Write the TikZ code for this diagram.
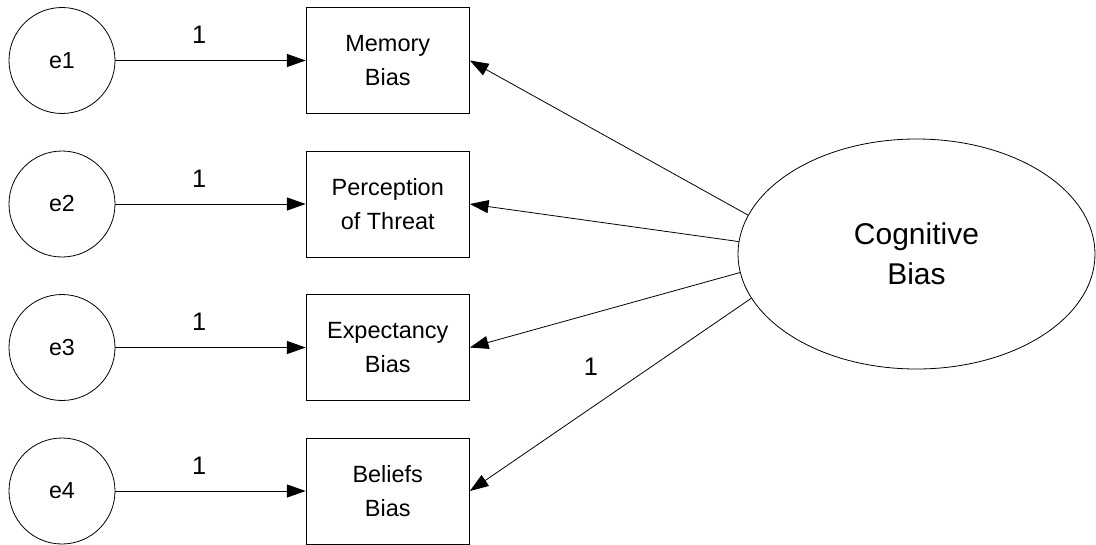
\documentclass[tikz,border=0pt]{standalone}
\usepackage{fontspec}
\setmainfont{Liberation Sans}
\usetikzlibrary{arrows.meta,shapes.geometric}
\begin{document}
\begin{tikzpicture}[x=0.75pt,y=-0.75pt,
  every node/.style={inner sep=0pt},
  errvar/.style={circle,draw,line width=0.6pt,minimum size=79.5pt,
    font=\fontsize{17.4}{20}\selectfont},
  indicator/.style={rectangle,draw,line width=0.6pt,minimum width=122.6pt,
    minimum height=79.5pt,align=center,font=\fontsize{17.6}{25}\selectfont},
  latent/.style={ellipse,draw,line width=0.6pt,minimum width=267.75pt,
    minimum height=172.5pt,align=center,font=\fontsize{22.5}{30}\selectfont},
  loading/.style={line width=0.6pt,-{Triangle[length=14pt,width=9.75pt]}},
  wlabel/.style={font=\fontsize{19}{22}\selectfont},
]
\useasboundingbox (0,0) rectangle (1096,544);

% error terms
\node[errvar] (e1) at (62,60.5) {e1};
\node[errvar] (e2) at (62,204) {e2};
\node[errvar] (e3) at (62,347.5) {e3};
\node[errvar] (e4) at (62,491) {e4};

% observed indicators
\node[indicator] (m1) at (387.75,60.5) {Memory\\Bias};
\node[indicator] (m2) at (387.75,204) {Perception\\of Threat};
\node[indicator] (m3) at (387.75,347.5) {Expectancy\\Bias};
\node[indicator] (m4) at (387.75,491) {Beliefs\\Bias};

% latent factor
\node[latent] (cb) at (916.5,254) {Cognitive\\Bias};

% error paths
\draw[loading] (e1) -- node[wlabel,pos=0.44,yshift=19pt] (w1) {1} (m1);
\draw[loading] (e2) -- node[wlabel,pos=0.44,yshift=19pt] (w2) {1} (m2);
\draw[loading] (e3) -- node[wlabel,pos=0.44,yshift=19pt] (w3) {1} (m3);
\draw[loading] (e4) -- node[wlabel,pos=0.44,yshift=19pt] (w4) {1} (m4);

% factor loadings
\draw[loading] (cb.167.3) -- (m1.east);
\draw[loading] (cb.176.5) -- (m2.east);
\draw[loading] (cb.186.5) -- (m3.east);
\draw[loading] (cb.195.6) -- node[wlabel,pos=0.57,yshift=30.75pt] (w5) {1} (m4.east);
\end{tikzpicture}
\end{document}
